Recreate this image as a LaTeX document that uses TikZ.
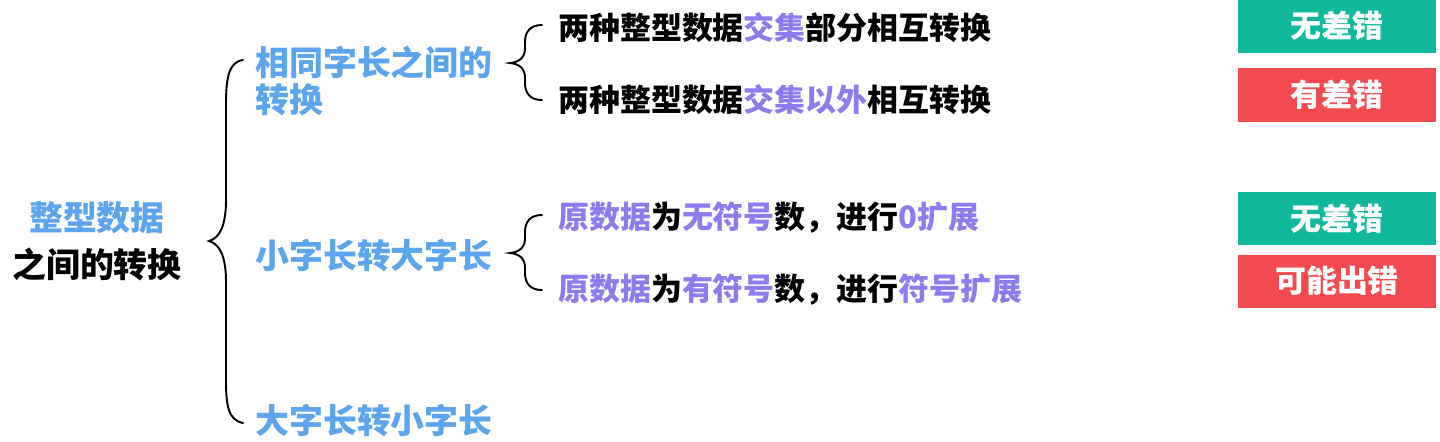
\documentclass[tikz,border=0pt]{standalone}
\usepackage{fontspec}
\setmainfont{Noto Sans CJK SC}
\usepackage{xcolor}
\usepackage{tikz}
\usetikzlibrary{positioning,calc}
\definecolor{TitleBlue}{RGB}{90,165,238}
\definecolor{KeyPurple}{RGB}{139,124,240}
\definecolor{OkGreen}{RGB}{16,185,155}
\definecolor{ErrRed}{RGB}{243,74,80}
\newcommand{\hl}[1]{\textcolor{KeyPurple}{#1}}

\begin{document}
\begin{tikzpicture}[x=0.02cm, y=-0.02cm]
  \tikzset{lvl/.style={inner sep=0pt, anchor=west, text=TitleBlue, font=\bfseries\fontsize{19.3}{21.5}\selectfont},
    item/.style={inner sep=0pt, anchor=west, font=\bfseries\fontsize{17.6}{20}\selectfont},
    tag/.style={inner sep=0pt, minimum width=3.96cm, minimum height=1.06cm, text=white, font=\bfseries\fontsize{17.6}{20}\selectfont},
    brace line/.style={line width=1.1pt, line cap=round}}
  \useasboundingbox (0,0) rectangle (1440,441);

  % left title and the three cases
  \node[inner sep=0pt, align=center, font=\bfseries\fontsize{19.3}{26.6}\selectfont] (root) at (97,241) {\textcolor{TitleBlue}{整型数据}\\之间的转换};
  \node[lvl, align=left] (same) at (255,81) {相同字长之间的\\转换};
  \node[lvl] (small2big) at (255,256) {小字长转大字长};
  \node[lvl] (big2small) at (255,421) {大字长转小字长};

  % sub cases
  \node[item] (r1) at (558,28) {两种整型数据\hl{交集}部分相互转换};
  \node[item] (r2) at (558,100) {两种整型数据\hl{交集以外}相互转换};
  \node[item] (r3) at (558,218) {\hl{原数据}为\hl{无符号}数，进行\hl{0扩展}};
  \node[item] (r4) at (558,290) {\hl{原数据}为\hl{有符号}数，进行\hl{符号扩展}};

  % result tags
  \node[tag, fill=OkGreen] (t1) at (1337,26) {无差错};
  \node[tag, fill=ErrRed, minimum height=1.08cm] (t2) at (1337,95) {有差错};
  \node[tag, fill=OkGreen] (t3) at (1337,218.5) {无差错};
  \node[tag, fill=ErrRed] (t4) at (1337,281) {可能出错};

  % braces
  \coordinate (bigtop) at (243,60);
  \coordinate (bigtip) at (209,241);
  \coordinate (bigbot) at (243,423);
  \coordinate (b1top) at (542,25);
  \coordinate (b1tip) at (510,63);
  \coordinate (b1bot) at (542,100);
  \coordinate (b2top) at (542,215);
  \coordinate (b2tip) at (510,253);
  \coordinate (b2bot) at (542,290);

  \draw[brace line] (bigtop) .. controls +(-15,2) and +(0,-25) .. ($(bigtop)+(-17,45)$)
    -- ($(bigtip)+(17,-41)$) .. controls +(0,25) and +(11,-3) .. (bigtip)
    .. controls +(11,3) and +(0,-25) .. ($(bigtip)+(17,41)$)
    -- ($(bigbot)+(-17,-43)$) .. controls +(0,25) and +(-15,-3) .. (bigbot);
  \foreach \bn in {b1,b2}
    \draw[brace line] (\bn top) .. controls +(-12,0) and +(0,-10) .. ($(\bn top)+(-17,17)$)
      -- ($(\bn tip)+(15,-15)$) .. controls +(0,9) and +(10,-1) .. (\bn tip)
      .. controls +(10,1) and +(0,-9) .. ($(\bn tip)+(15,15)$)
      -- ($(\bn bot)+(-17,-17)$) .. controls +(0,10) and +(-12,0) .. (\bn bot);
\end{tikzpicture}
\end{document}
